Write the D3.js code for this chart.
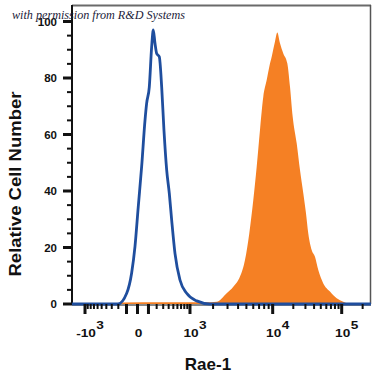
<!DOCTYPE html>
<html>
<head>
<meta charset="utf-8">
<script src="https://cdn.jsdelivr.net/npm/d3@7"></script>
<style>
  body { margin: 0; background: #fff; }
  text { font-family: "Liberation Sans", Arial, sans-serif; }
</style>
</head>
<body>
<div id="chart"></div>
<script>
// isotype control (blue outline) and Rae-1 stained cells (orange fill)
var controlX = [-1612, -204, -98, -49, -20, 6, 34, 65, 81, 109, 136, 156, 177, 200, 238, 275, 313, 362, 413, 463, 539, 670, 880, 1232, 1829, 263000];
var controlY = [0, 0, 3.8, 11, 20.3, 34.4, 48.6, 65.1, 71, 76.8, 91, 97, 92.4, 88.7, 87.5, 76.8, 61.5, 47.4, 39.2, 29.7, 17.9, 8.5, 3.8, 1.1, 0, 0];

var raeX = [-1612, -250, -150, 300, 1000, 1600, 2216, 2930, 3512, 4211, 4815, 5400, 6008, 6573, 7170, 7820, 8548, 9152, 9745, 10815, 11690, 12802, 14307, 16360, 17910, 19605, 22407, 25020, 27930, 30550, 32990, 36940, 41230, 46010, 54320, 67820, 84720, 105450, 131600, 263000];
var raeY = [0, 0, 0.5, 0.6, 0.6, 0.6, 0.8, 3.8, 6.1, 9.7, 15.6, 25, 36.8, 48.6, 61.6, 73.4, 79.3, 84, 87.5, 92.9, 96.1, 92.3, 88.7, 85.2, 76.9, 66.3, 56.9, 47.4, 39.2, 32.1, 25, 19.1, 16.7, 12, 7.3, 4.4, 2, 0.8, 0, 0];

// axis ticks
var xMajor = [-1000, 0, 1000, 10000, 100000];
var xMajorLabels = [["-10", "3"], ["0", ""], ["10", "3"], ["10", "4"], ["10", "5"]];
var xMinor = [];
d3.range(1, 10).forEach(function(k) {
  xMinor.push(-k * 100, k * 100, k * 1000, k * 10000);
});
xMinor.push(200000);
var yMajor = [0, 20, 40, 60, 80, 100];
var yMinor = d3.range(5, 105, 5).filter(function(v) { return v % 20 != 0; });

var width = 375, height = 375,
    plotLeft = 72, plotRight = 371, plotTop = 5, plotBottom = 304,
    pw = plotRight - plotLeft;

var svg = d3.select("#chart").append("svg")
    .attr("width", width)
    .attr("height", height);

// logicle-like display: decades placed along the axis
var x = d3.scaleSymlog()
  .constant(250)
  .domain([-1000, 0, 1000, 10000, 100000])
  .range([0.0435, 0.219, 0.3946, 0.6712, 0.902].map(function(f) { return plotLeft + f * pw; }));

var y = d3.scaleLinear()
  .domain([0, 105.84])
  .range([plotBottom, plotTop]);

var raeData = raeX.map(function(v, i) { return [v, raeY[i]]; });
var controlData = controlX.map(function(v, i) { return [v, controlY[i]]; });

svg.append("path")
  .datum(raeData)
  .attr("d", d3.area()
    .curve(d3.curveMonotoneX)
    .x(function(d) { return x(d[0]); })
    .y0(y(0))
    .y1(function(d) { return y(d[1]); }))
  .style("fill", "#f58024");

// frame
svg.append("line")
  .attr("x1", plotLeft).attr("x2", plotRight)
  .attr("y1", plotTop + 0.5).attr("y2", plotTop + 0.5)
  .style("stroke", "#6a6a6a").style("stroke-width", 2);
svg.append("line")
  .attr("x1", plotRight - 0.5).attr("x2", plotRight - 0.5)
  .attr("y1", plotTop).attr("y2", plotBottom)
  .style("stroke", "#555").style("stroke-width", 1.5);
svg.append("line")
  .attr("x1", plotLeft).attr("x2", plotLeft)
  .attr("y1", plotTop).attr("y2", plotBottom + 1)
  .style("stroke", "#111").style("stroke-width", 2);
svg.append("line")
  .attr("x1", plotLeft).attr("x2", plotRight)
  .attr("y1", plotBottom + 1).attr("y2", plotBottom + 1)
  .style("stroke", "#111").style("stroke-width", 1);

svg.append("path")
  .datum(controlData)
  .attr("d", d3.line()
    .curve(d3.curveMonotoneX)
    .x(function(d) { return x(d[0]); })
    .y(function(d) { return y(d[1]); }))
  .style("fill", "none")
  .style("stroke", "#1f4e9e")
  .style("stroke-width", 2.8)
  .style("stroke-linejoin", "round");

// y axis ticks
svg.selectAll(".ymaj")
  .data(yMajor)
  .enter().append("line")
  .attr("x1", plotLeft - 9).attr("x2", plotLeft)
  .attr("y1", function(d) { return y(d); })
  .attr("y2", function(d) { return y(d); })
  .style("stroke", "#111").style("stroke-width", 3);
svg.selectAll(".ymin")
  .data(yMinor)
  .enter().append("line")
  .attr("x1", plotLeft - 5).attr("x2", plotLeft)
  .attr("y1", function(d) { return y(d); })
  .attr("y2", function(d) { return y(d); })
  .style("stroke", "#111").style("stroke-width", 2);
svg.selectAll(".ylab")
  .data(yMajor)
  .enter().append("text")
  .attr("x", 57)
  .attr("y", function(d) { return y(d); })
  .attr("dy", "0.35em")
  .style("text-anchor", "end")
  .style("font-size", "11.5px")
  .style("font-weight", "bold")
  .style("fill", "#111")
  .text(function(d) { return d; });

// x axis ticks
svg.selectAll(".xmin")
  .data(xMinor)
  .enter().append("line")
  .attr("x1", function(d) { return x(d); })
  .attr("x2", function(d) { return x(d); })
  .attr("y1", plotBottom).attr("y2", plotBottom + 5)
  .style("stroke", "#111").style("stroke-width", 2);
svg.selectAll(".xmaj")
  .data(xMajor.concat([-100, 100]))
  .enter().append("line")
  .attr("x1", function(d) { return x(d); })
  .attr("x2", function(d) { return x(d); })
  .attr("y1", plotBottom).attr("y2", plotBottom + 10)
  .style("stroke", "#111").style("stroke-width", 3);

// tick labels are wide, so stretch them a little
var xl = svg.selectAll(".xlab")
  .data(xMajor)
  .enter().append("g")
  .attr("transform", function(d) { return "translate(" + (x(d) + 1) + ",337) scale(1.3,1)"; });
xl.append("text")
  .attr("class", "base")
  .style("text-anchor", "middle")
  .style("font-size", "10.5px")
  .style("font-weight", "bold")
  .style("fill", "#111")
  .text(function(d, i) { return xMajorLabels[i][0]; });
xl.append("text")
  .attr("x", function() {
    return this.parentNode.querySelector(".base").getComputedTextLength() / 2 + 0.3;
  })
  .attr("y", -8)
  .style("font-size", "10.5px")
  .style("font-weight", "bold")
  .style("fill", "#111")
  .text(function(d, i) { return xMajorLabels[i][1]; });

// axis titles
svg.append("text")
  .attr("x", 208).attr("y", 370)
  .style("text-anchor", "middle")
  .style("font-size", "17px")
  .style("font-weight", "bold")
  .style("fill", "#111")
  .text("Rae-1");
svg.append("text")
  .attr("transform", "translate(21,184) rotate(-90)")
  .attr("textLength", 185)
  .attr("lengthAdjust", "spacingAndGlyphs")
  .style("text-anchor", "middle")
  .style("font-size", "17px")
  .style("font-weight", "bold")
  .style("fill", "#111")
  .text("Relative Cell Number");

// credit line
svg.append("text")
  .attr("x", 12).attr("y", 19)
  .attr("textLength", 173)
  .attr("lengthAdjust", "spacingAndGlyphs")
  .style("font-family", "'Liberation Serif', serif")
  .style("font-style", "italic")
  .style("font-size", "12px")
  .style("fill", "#1c1c3a")
  .text("with permission from R&D Systems");
</script>
</body>
</html>
